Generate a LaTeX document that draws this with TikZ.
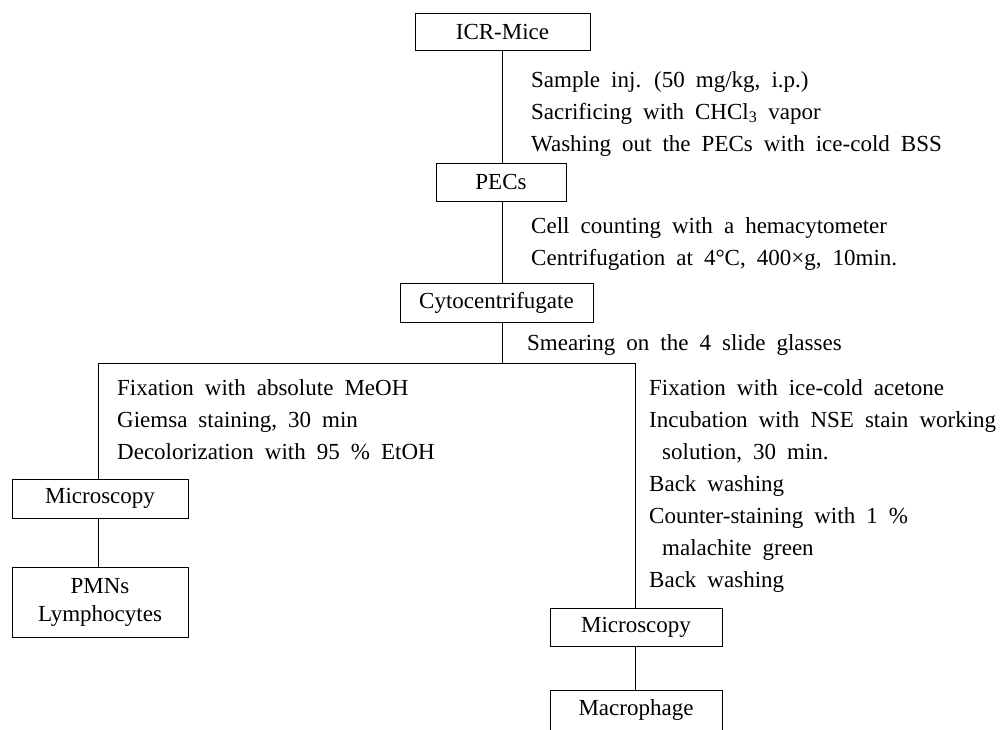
\documentclass[tikz,border=0pt]{standalone}
\usepackage{fontspec}
\setmainfont{Liberation Serif}
\newcommand{\fsz}{\fontsize{23}{30}\selectfont\spaceskip=0.48em plus 0.1em\relax}
\begin{document}
\begin{tikzpicture}[x=1pt,y=-1pt,
  box/.style={draw,line width=0.7pt,inner sep=0pt,font=\fsz,align=center},
  txt/.style={anchor=base west,inner sep=0pt,font=\fsz},
  conn/.style={line width=0.7pt}]
\useasboundingbox (0,0) rectangle (1005,729);
% boxes
\node[box,minimum width=175pt,minimum height=37pt] (ICR) at (502.5,31.5) {ICR-Mice};
\node[box,minimum width=130pt,minimum height=38pt] (PECs) at (501,182) {PECs};
\node[box,minimum width=193pt,minimum height=39pt] (Cyto) at (496.5,302.5) {Cytocentrifugate};
\node[box,minimum width=176pt,minimum height=39pt] (Mic1) at (100,498.5) {Microscopy};
\node[box,minimum width=176pt,minimum height=70pt,font=\fontsize{23}{28}\selectfont] (PMN) at (100,602) {PMNs\\Lymphocytes};
\node[box,minimum width=172pt,minimum height=38pt] (Mic2) at (636,627) {Microscopy};
\node[box,minimum width=172pt,minimum height=40pt] (Mac) at (636,710) {Macrophage};
% coordinates for the connector lines
\coordinate (mx) at (502,0);
\coordinate (jl) at (98,363);
\coordinate (jr) at (635,363);
% connectors
\draw[conn] (ICR.south -| mx) -- (PECs.north -| mx);
\draw[conn] (PECs.south -| mx) -- (Cyto.north -| mx);
\draw[conn] (Cyto.south -| mx) -- (mx |- jl);
\draw[conn] (jl) -- (jr);
\draw[conn] (jl) -- (Mic1.north -| jl);
\draw[conn] (jr) -- (Mic2.north -| jr);
\draw[conn] (Mic1.south -| jl) -- (PMN.north -| jl);
\draw[conn] (Mic2.south -| jr) -- (Mac.north -| jr);
% texts: main column
\node[txt] (a1) at (531,87) {Sample inj. (50 mg/kg, i.p.)};
\node[txt] (a2) at (531,119) {Sacrificing with CHCl\textsubscript{3} vapor};
\node[txt] (a3) at (531,151) {Washing out the PECs with ice-cold BSS};
\node[txt] (b1) at (531,233) {Cell counting with a hemacytometer};
\node[txt] (b2) at (531,265) {Centrifugation at 4°C, 400×g, 10min.};
\node[txt] (c1) at (527,350) {Smearing on the 4 slide glasses};
% left column
\node[txt] (l1) at (117,395) {Fixation with absolute MeOH};
\node[txt] (l2) at (117,427) {Giemsa staining, 30 min};
\node[txt] (l3) at (117,459) {Decolorization with 95 \% EtOH};
% right column
\node[txt] (r1) at (649,395) {Fixation with ice-cold acetone};
\node[txt] (r2) at (649,427) {Incubation with NSE stain working};
\node[txt] (r3) at (662,459) {solution, 30 min.};
\node[txt] (r4) at (649,491) {Back washing};
\node[txt] (r5) at (649,523) {Counter-staining with 1 \%};
\node[txt] (r6) at (662,555) {malachite green};
\node[txt] (r7) at (649,587) {Back washing};
\end{tikzpicture}
\end{document}
